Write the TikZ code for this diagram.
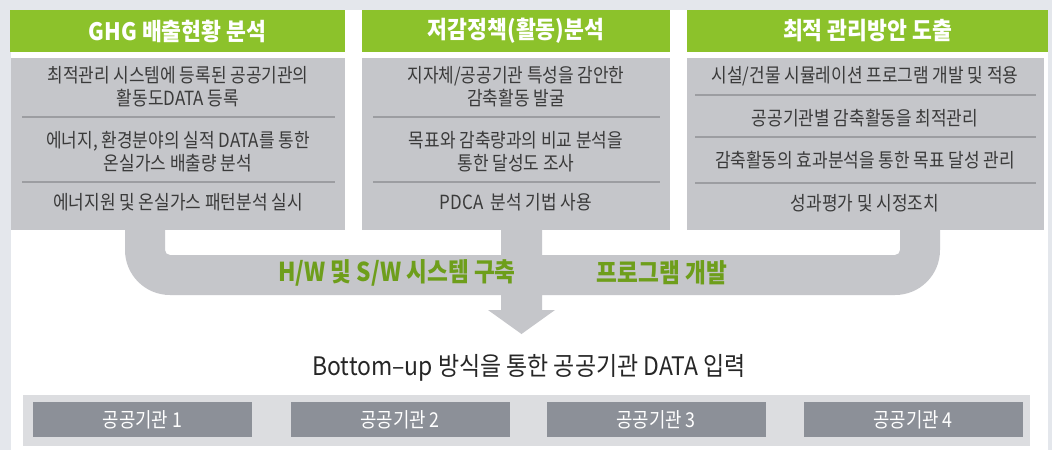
\documentclass[tikz,border=0pt]{standalone}
\usepackage{fontspec}
\newfontfamily\kr[FakeStretch=0.87]{Noto Sans CJK KR}
\newfontfamily\krh[FakeStretch=0.9]{Noto Sans CJK KR}
\newfontfamily\krw[FakeStretch=0.9]{Noto Sans CJK KR}
\definecolor{bgstrip}{HTML}{E4E7EC}
\definecolor{hgreen}{HTML}{8CC22B}
\definecolor{gtext}{HTML}{6E9E1B}
\definecolor{bodygrey}{HTML}{C5C6CA}
\definecolor{sepgrey}{HTML}{9C9DA1}
\definecolor{bodytext}{HTML}{3A3A3A}
\definecolor{barlight}{HTML}{DCDDE0}
\definecolor{boxdark}{HTML}{8C9098}
\tikzset{
  hdr/.style={fill=hgreen, text=white, inner sep=0pt, font=\krh\bfseries\fontsize{24}{26}\selectfont},
  bodybox/.style={fill=bodygrey, inner sep=0pt},
  item/.style={text=bodytext, align=center, inner sep=0pt, font=\kr\fontsize{19.5}{23}\selectfont},
  sepline/.style={draw=sepgrey, line width=1.3pt},
  bandtext/.style={text=gtext, inner sep=0pt, font=\kr\bfseries\fontsize{26}{28}\selectfont},
  orgbox/.style={fill=boxdark, text=white, inner sep=0pt, minimum width=219pt, minimum height=35pt, font=\kr\fontsize{20.5}{22}\selectfont},
}
\begin{document}
\begin{tikzpicture}[x=1pt,y=-1pt]
\useasboundingbox (0,0) rectangle (1052,450);
% background frame
\fill[bgstrip] (0,0) rectangle (1052,450);
\fill[white] (11,10) rectangle (1048,450);

% headers
\node[hdr, minimum width=335pt, minimum height=42pt] (h1) at (177.5,31) {GHG 배출현황 분석};
\node[hdr, minimum width=308pt, minimum height=42pt] (h2) at (516,31) {저감정책(활동)분석};
\node[hdr, minimum width=361pt, minimum height=42pt] (h3) at (867.5,31) {최적 관리방안 도출};

% bodies
\node[bodybox, minimum width=334pt, minimum height=172pt] (b1) at (178,144) {};
\node[bodybox, minimum width=308pt, minimum height=172pt] (b2) at (516,144) {};
\node[bodybox, minimum width=357pt, minimum height=172pt] (b3) at (865.5,144) {};

% connector shape
\fill[bodygrey] (125,229) -- (125,250)
  .. controls (125,274.9) and (145.1,295) .. (170,295)
  -- (501,295) -- (501,310) -- (488,310) -- (521.5,334) -- (555,310) -- (542,310) -- (542,295)
  -- (895,295) .. controls (919.9,295) and (940,274.9) .. (940,250)
  -- (940,229) -- (900,229) -- (900,250)
  .. controls (900,252.8) and (897.8,255) .. (895,255)
  -- (542,255) -- (542,229) -- (501,229) -- (501,255) -- (170,255)
  .. controls (167.2,255) and (165,252.8) .. (165,250)
  -- (165,229) -- cycle;

% column 1 items
\node[item] (c1a) at (178,86.5) {최적관리 시스템에 등록된 공공기관의\\활동도DATA 등록};
\node[item] (c1b) at (178,151.5) {에너지, 환경분야의 실적 DATA를 통한\\온실가스 배출량 분석};
\node[item] (c1c) at (178,202) {에너지원 및 온실가스 패턴분석 실시};
\draw[sepline] (22,117) -- (335,117);
\draw[sepline] (22,182) -- (335,182);

% column 2 items
\node[item] (c2a) at (516,86.5) {지자체/공공기관 특성을 감안한\\감축활동 발굴};
\node[item] (c2b) at (516,151.5) {목표와 감축량과의 비교 분석을\\통한 달성도 조사};
\node[item] (c2c) at (516,202) {PDCA\ \ 분석 기법 사용};
\draw[sepline] (373,117) -- (660,117);
\draw[sepline] (373,182) -- (660,182);

% column 3 items
\node[item] (c3a) at (865,76) {시설/건물 시뮬레이션 프로그램 개발 및 적용};
\node[item] (c3b) at (865,118) {공공기관별 감축활동을 최적관리};
\node[item] (c3c) at (865,160) {감축활동의 효과분석을 통한 목표 달성 관리};
\node[item] (c3d) at (865,203) {성과평가 및 시정조치};
\draw[sepline] (695,95) -- (1036,95);
\draw[sepline] (695,137) -- (1036,137);
\draw[sepline] (695,183) -- (1036,183);

% band labels
\node[bandtext] (t1) at (397,273) {H/W 및 S/W 시스템 구축};
\node[bandtext] (t2) at (662,273) {프로그램 개발};

% bottom
\node[text=black!85, inner sep=0pt, anchor=base, font=\krw\fontsize{25.5}{27}\selectfont] (bt) at (529,375) {Bottom–up 방식을 통한 공공기관 DATA 입력};
\fill[barlight] (23,395) rectangle (1030,446);
\node[orgbox] (o1) at (142.5,419.5) {공공기관 1};
\node[orgbox] (o2) at (400,419.5) {공공기관 2};
\node[orgbox] (o3) at (656,419.5) {공공기관 3};
\node[orgbox] (o4) at (913,419.5) {공공기관 4};
\end{tikzpicture}
\end{document}
